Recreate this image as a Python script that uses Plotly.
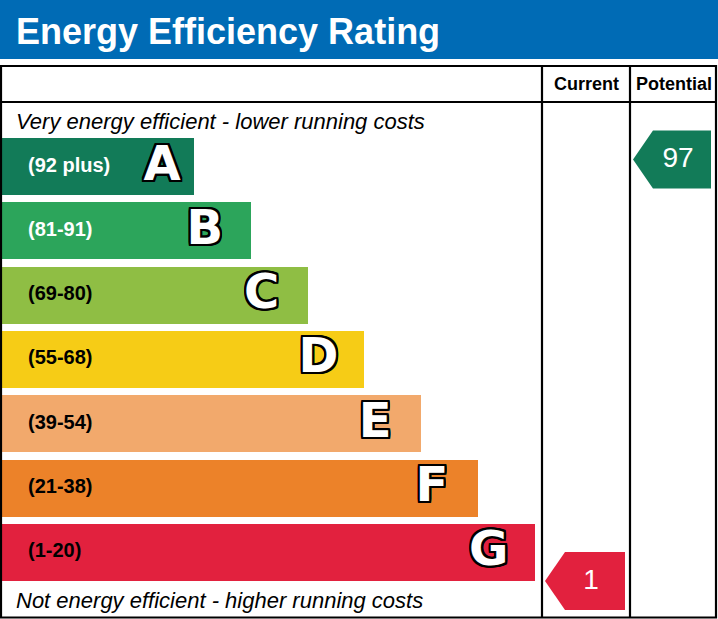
import plotly.graph_objects as go

# ---- data ----
band_letters = ["A", "B", "C", "D", "E", "F", "G"]
band_ranges = ["(92 plus)", "(81-91)", "(69-80)", "(55-68)", "(39-54)", "(21-38)", "(1-20)"]
band_low = [92, 81, 69, 55, 39, 21, 1]
band_high = [100, 91, 80, 68, 54, 38, 20]
band_colors = ["#127b58", "#2ca55b", "#8fbe44", "#f6cc16", "#f2a96c", "#ec8229", "#e2213e"]
label_colors = ["white", "white", "black", "black", "black", "black", "black"]
current_rating = 1
potential_rating = 97
title_text = "Energy Efficiency Rating"
top_note = "Very energy efficient - lower running costs"
bottom_note = "Not energy efficient - higher running costs"
col_titles = ["Current", "Potential"]

# ---- layout constants (pixels) ----
W, H = 718, 619
ROW0, ROW_STEP, ROW_H = 138, 64.33, 57
BAR_W0, BAR_STEP = 194, 56.8
CUR_X0, POT_X0, RIGHT_X = 542, 630, 716
TABLE_TOP, HEAD_LINE, TABLE_BOT = 66, 102, 617.5

n = len(band_letters)
row_top = [ROW0 + i * ROW_STEP for i in range(n)]
row_center = [t + ROW_H / 2 for t in row_top]
bar_len = [BAR_W0 + i * BAR_STEP for i in range(n)]

fig = go.Figure()

fig.add_trace(go.Bar(
    orientation="h", base=0, x=bar_len, y=row_center, width=ROW_H,
    marker=dict(color=band_colors, line=dict(width=0)),
    hoverinfo="skip", showlegend=False,
))

# range labels
fig.add_trace(go.Scatter(
    x=[28] * n, y=row_center, mode="text", text=band_ranges,
    textposition="middle right",
    textfont=dict(family="Liberation Sans", size=20, color=label_colors, weight="bold"),
    hoverinfo="skip", showlegend=False,
))

# letters
outline = ",".join(f"{dx}px {dy}px 0 #000" for dx in (-2, -1, 0, 1, 2) for dy in (-2, -1, 0, 1, 2) if (dx, dy) != (0, 0))
letter_x = [bar_len[i] - (32 if i == 0 else 46) for i in range(n)]
fig.add_trace(go.Scatter(
    x=letter_x, y=[c + 1 for c in row_center], mode="text", text=band_letters,
    textposition="middle center",
    textfont=dict(family="DejaVu Sans", size=48, color="white", weight="bold", shadow=outline),
    hoverinfo="skip", showlegend=False,
))


def band_index(v):
    for i in range(n):
        if band_low[i] <= v <= band_high[i] or (i == 0 and v >= band_low[0]):
            return i
    return n - 1


def arrow(v, x0, x1):
    i = band_index(v)
    bottom = row_top[i] + ROW_H
    frac = (v - band_low[i]) / (band_high[i] - band_low[i])
    cy = bottom - frac * ROW_H
    h = 58
    tip = x0 + 3
    body = tip + 20
    right = x1 - 5
    xs = [tip, body, right, right, body, tip]
    ys = [cy, cy - h / 2, cy - h / 2, cy + h / 2, cy + h / 2, cy]
    fig.add_trace(go.Scatter(
        x=xs, y=ys, mode="lines", fill="toself", fillcolor=band_colors[i],
        line=dict(width=0, color=band_colors[i]), hoverinfo="skip", showlegend=False,
    ))
    fig.add_trace(go.Scatter(
        x=[(tip + right) / 2 + 6], y=[cy + 1], mode="text", text=[str(v)],
        textposition="middle center",
        textfont=dict(family="Liberation Sans", size=28, color="white"),
        hoverinfo="skip", showlegend=False,
    ))


arrow(current_rating, CUR_X0, POT_X0)
arrow(potential_rating, POT_X0, RIGHT_X)

shapes = [
    # header bar
    dict(type="rect", xref="x", yref="y", x0=0, x1=W, y0=0, y1=59,
         fillcolor="#006bb5", line=dict(width=0), layer="below"),
    # table frame
    dict(type="rect", xref="x", yref="y", x0=1, x1=RIGHT_X, y0=TABLE_TOP, y1=TABLE_BOT,
         line=dict(color="black", width=2.2), fillcolor="rgba(0,0,0,0)"),
    dict(type="line", xref="x", yref="y", x0=1, x1=RIGHT_X, y0=HEAD_LINE, y1=HEAD_LINE,
         line=dict(color="black", width=2.2)),
    dict(type="line", xref="x", yref="y", x0=CUR_X0, x1=CUR_X0, y0=TABLE_TOP, y1=TABLE_BOT,
         line=dict(color="black", width=2.2)),
    dict(type="line", xref="x", yref="y", x0=POT_X0, x1=POT_X0, y0=TABLE_TOP, y1=TABLE_BOT,
         line=dict(color="black", width=2.2)),
]

annotations = [
    dict(x=14, y=31, xref="x", yref="y", text=f"<b>{title_text}</b>", showarrow=False,
         xanchor="left", yanchor="middle", font=dict(family="Liberation Sans", size=36, color="white")),
    dict(x=(CUR_X0 + POT_X0) / 2, y=84, xref="x", yref="y", text=f"<b>{col_titles[0]}</b>",
         showarrow=False, xanchor="center", yanchor="middle",
         font=dict(family="Liberation Sans", size=18, color="black")),
    dict(x=(POT_X0 + RIGHT_X) / 2 + 1, y=84, xref="x", yref="y", text=f"<b>{col_titles[1]}</b>",
         showarrow=False, xanchor="center", yanchor="middle",
         font=dict(family="Liberation Sans", size=18, color="black")),
    dict(x=14, y=121, xref="x", yref="y", text=f"<i>{top_note}</i>", showarrow=False,
         xanchor="left", yanchor="middle", font=dict(family="Liberation Sans", size=22, color="black")),
    dict(x=14, y=600, xref="x", yref="y", text=f"<i>{bottom_note}</i>", showarrow=False,
         xanchor="left", yanchor="middle", font=dict(family="Liberation Sans", size=22, color="black")),
]

fig.update_layout(
    width=W, height=H, margin=dict(l=0, r=0, t=0, b=0),
    paper_bgcolor="white", plot_bgcolor="white",
    xaxis=dict(range=[0, W], visible=False, fixedrange=True),
    yaxis=dict(range=[H, 0], visible=False, fixedrange=True),
    shapes=shapes, annotations=annotations, bargap=0,
)

fig.write_html("out.html", config={"displayModeBar": False},
               post_script="document.body.style.margin='0';document.body.style.padding='0';document.body.style.overflow='hidden';")
